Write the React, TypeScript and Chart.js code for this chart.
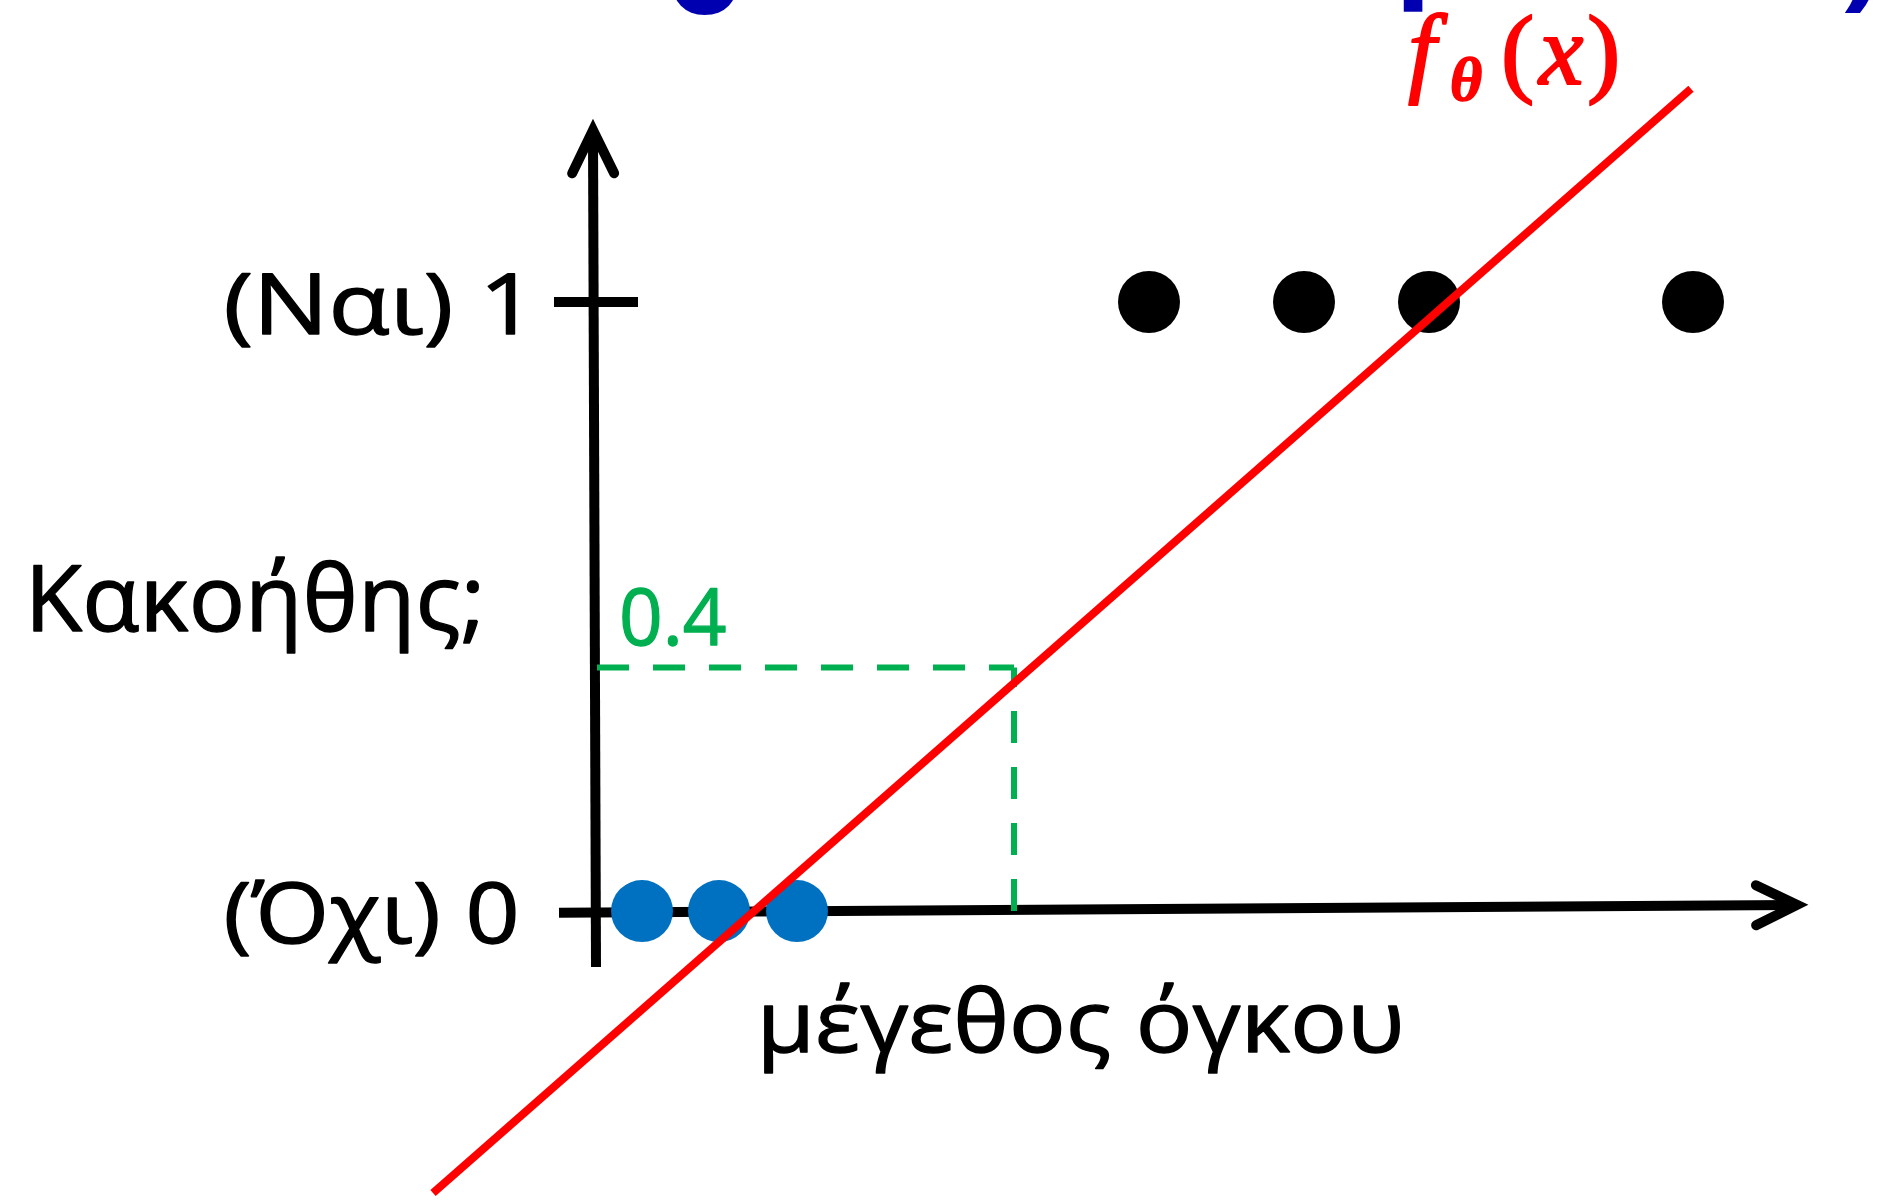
import { useEffect, useRef } from 'react';
import { Chart, registerables } from 'chart.js';

Chart.register(...registerables);

// ---- data ----
const benignX = [0.47, 1.24, 2.02];
const benignY = [0, 0, 0];
const malignantX = [5.54, 7.09, 8.34, 10.98];
const malignantY = [1, 1, 1, 1];
const fitLineX = [-1.62, 10.96];
const fitLineY = [-0.463, 1.35];
const thresholdValue = 0.4;
const thresholdSize = 4.19;
const yTickValues = [0, 1];
const yTickLabels = ['(Όχι) 0', '(Ναι) 1'];
const yAxisTitle = 'Κακοήθης;';
const xAxisTitle = 'μέγεθος όγκου';
const thresholdLabel = '0.4';
// axis extents (start, end) in data units, with the slight hand-drawn tilt
const yAxisExtentY = [-0.092, 1.282];
const yAxisExtentX = [0.01, -0.02];
const xAxisExtentX = [-0.36, 12.02];
const xAxisExtentY = [-0.003, 0.01];
const titleFragments = ['o', 'l', ')'];

const X_MIN = -5.95;
const X_MAX = 13.01;
const Y_MIN = -0.4745;
const Y_MAX = 1.4959;

const SANS = '"Open Sans", "Noto Sans", "DejaVu Sans", sans-serif';
const SERIF = '"Liberation Serif", "DejaVu Serif", serif';

function fitText(
  ctx: CanvasRenderingContext2D,
  text: string,
  font: string,
  color: string,
  anchorX: number,
  baselineY: number,
  targetW: number,
  align: 'left' | 'right' | 'center',
  weight = 1.3
) {
  ctx.save();
  ctx.font = font;
  ctx.fillStyle = color;
  ctx.strokeStyle = color;
  ctx.lineWidth = weight;
  ctx.lineJoin = 'round';
  ctx.textAlign = 'left';
  ctx.textBaseline = 'alphabetic';
  const m = ctx.measureText(text);
  const w = m.actualBoundingBoxLeft + m.actualBoundingBoxRight;
  const s = targetW / w;
  const left = align === 'left' ? anchorX : align === 'right' ? anchorX - targetW : anchorX - targetW / 2;
  ctx.translate(left, baselineY);
  ctx.scale(s, 1);
  ctx.fillText(text, m.actualBoundingBoxLeft, 0);
  if (weight > 0) ctx.strokeText(text, m.actualBoundingBoxLeft, 0);
  ctx.restore();
}

function inkText(
  ctx: CanvasRenderingContext2D,
  text: string,
  font: string,
  color: string,
  inkLeft: number,
  baselineY: number,
  weight = 0
) {
  ctx.save();
  ctx.font = font;
  ctx.fillStyle = color;
  ctx.strokeStyle = color;
  ctx.lineWidth = weight;
  ctx.lineJoin = 'round';
  ctx.textAlign = 'left';
  ctx.textBaseline = 'alphabetic';
  const m = ctx.measureText(text);
  ctx.fillText(text, inkLeft + m.actualBoundingBoxLeft, baselineY);
  if (weight > 0) ctx.strokeText(text, inkLeft + m.actualBoundingBoxLeft, baselineY);
  ctx.restore();
}

function inkBottomText(
  ctx: CanvasRenderingContext2D,
  text: string,
  font: string,
  color: string,
  inkLeft: number,
  inkBottom: number
) {
  ctx.save();
  ctx.font = font;
  ctx.fillStyle = color;
  ctx.textAlign = 'left';
  ctx.textBaseline = 'alphabetic';
  const m = ctx.measureText(text);
  ctx.fillText(text, inkLeft + m.actualBoundingBoxLeft, inkBottom - m.actualBoundingBoxDescent);
  ctx.restore();
}

function arrowHead(ctx: CanvasRenderingContext2D, x0: number, y0: number, x1: number, y1: number, back: number, spread: number) {
  const dx = x1 - x0;
  const dy = y1 - y0;
  const len = Math.hypot(dx, dy);
  const ux = dx / len;
  const uy = dy / len;
  const bx = x1 - ux * back;
  const by = y1 - uy * back;
  ctx.beginPath();
  ctx.moveTo(bx - uy * spread, by + ux * spread);
  ctx.lineTo(x1, y1);
  ctx.lineTo(bx + uy * spread, by - ux * spread);
  ctx.stroke();
}

const axesPlugin = {
  id: 'customAxes',
  beforeDatasetsDraw(chart: any) {
    const { ctx } = chart;
    const xs = chart.scales.x;
    const ys = chart.scales.y;
    ctx.save();
    ctx.strokeStyle = '#000';
    ctx.lineWidth = 10;
    ctx.lineCap = 'butt';
    // y axis
    const yx0 = xs.getPixelForValue(yAxisExtentX[0]);
    const yx1 = xs.getPixelForValue(yAxisExtentX[1]);
    const yy0 = ys.getPixelForValue(yAxisExtentY[0]);
    const yy1 = ys.getPixelForValue(yAxisExtentY[1]);
    ctx.beginPath();
    ctx.moveTo(yx0, yy0);
    ctx.lineTo(yx1, yy1 + 4);
    ctx.stroke();
    // x axis
    const xx0 = xs.getPixelForValue(xAxisExtentX[0]);
    const xx1 = xs.getPixelForValue(xAxisExtentX[1]);
    const xy0 = ys.getPixelForValue(xAxisExtentY[0]);
    const xy1 = ys.getPixelForValue(xAxisExtentY[1]);
    ctx.beginPath();
    ctx.moveTo(xx0, xy0);
    ctx.lineTo(xx1 - 4, xy1);
    ctx.stroke();
    // tick at y = 1
    const t1 = ys.getPixelForValue(yTickValues[1]);
    ctx.beginPath();
    ctx.moveTo(xs.getPixelForValue(-0.41), t1);
    ctx.lineTo(xs.getPixelForValue(0.43), t1);
    ctx.stroke();
    // arrowheads
    ctx.lineCap = 'round';
    ctx.lineJoin = 'miter';
    arrowHead(ctx, yx0, yy0, yx1, yy1, 43, 21);
    arrowHead(ctx, xx0, xy0, xx1, xy1, 41, 20);
    ctx.restore();
  },
};

const labelsPlugin = {
  id: 'customLabels',
  afterDraw(chart: any) {
    const { ctx } = chart;
    const xs = chart.scales.x;
    const ys = chart.scales.y;
    const ox = xs.getPixelForValue(0);
    yTickValues.forEach((v, i) => {
      const py = ys.getPixelForValue(v);
      fitText(ctx, yTickLabels[i], `84px ${SANS}`, '#000', ox - 80, py + 32, 288, 'right');
    });
    fitText(ctx, yAxisTitle, `92px ${SANS}`, '#000', 33, ys.getPixelForValue(0.46), 446, 'left');
    fitText(ctx, xAxisTitle, `86px ${SANS}`, '#000', 1082, ys.getPixelForValue(0) + 141, 635, 'center');
    fitText(ctx, thresholdLabel, `78px ${SANS}`, '#00B050', ox + 27, ys.getPixelForValue(thresholdValue) - 22, 104, 'left');
    const red = '#FF0000';
    inkText(ctx, 'f', `italic 100px ${SERIF}`, red, 1409, 84, 2);
    inkText(ctx, 'θ', `italic bold 62px ${SERIF}`, red, 1452, 100, 1.5);
    inkText(ctx, '(', `100px ${SERIF}`, red, 1505, 84, 2);
    inkText(ctx, 'x', `italic 100px ${SERIF}`, red, 1537, 84, 2);
    inkText(ctx, ')', `100px ${SERIF}`, red, 1590, 84, 2);
    const blue = '#0000B0';
    inkBottomText(ctx, titleFragments[0], `bold 125px ${SANS}`, blue, 671, 15);
    inkBottomText(ctx, titleFragments[1], `bold 125px ${SANS}`, blue, 1403, 12);
    inkBottomText(ctx, titleFragments[2], `bold 125px ${SANS}`, blue, 1844, 13);
  },
};

export default function App() {
  const ref = useRef<HTMLCanvasElement>(null);
  useEffect(() => {
    document.body.style.margin = '0';
    const canvas = ref.current!;
    const toPts = (xs: number[], ys: number[]) => xs.map((x, i) => ({ x, y: ys[i] }));
    const chart = new Chart(canvas, {
      type: 'scatter',
      data: {
        datasets: [
          {
            label: 'fit',
            data: toPts(fitLineX, fitLineY),
            showLine: true,
            borderColor: '#FF0000',
            backgroundColor: '#FF0000',
            borderWidth: 8,
            pointRadius: 0,
            clip: false,
          } as any,
          {
            label: 'malignant',
            data: toPts(malignantX, malignantY),
            pointRadius: 31,
            pointBorderWidth: 0,
            backgroundColor: '#000000',
            borderColor: '#000000',
          },
          {
            label: 'benign',
            data: toPts(benignX, benignY),
            pointRadius: 31,
            pointBorderWidth: 0,
            backgroundColor: '#0070C0',
            borderColor: '#0070C0',
          },
          {
            label: 'thresholdH',
            data: [
              { x: 0.02, y: thresholdValue },
              { x: thresholdSize, y: thresholdValue },
            ],
            showLine: true,
            borderColor: '#00B050',
            borderWidth: 6,
            borderDash: [32, 24],
            pointRadius: 0,
          } as any,
          {
            label: 'thresholdV',
            data: [
              { x: thresholdSize, y: 0 },
              { x: thresholdSize, y: thresholdValue },
            ],
            showLine: true,
            borderColor: '#00B050',
            borderWidth: 6,
            borderDash: [32, 24],
            pointRadius: 0,
          } as any,
        ],
      },
      options: {
        responsive: false,
        animation: false,
        devicePixelRatio: 1,
        events: [],
        layout: { padding: 0, autoPadding: false },
        plugins: {
          legend: { display: false },
          tooltip: { enabled: false },
          title: { display: false },
        },
        scales: {
          x: { type: 'linear', display: false, min: X_MIN, max: X_MAX },
          y: { type: 'linear', display: false, min: Y_MIN, max: Y_MAX },
        },
      } as any,
      plugins: [axesPlugin, labelsPlugin],
    });
    return () => chart.destroy();
  }, []);
  return (
    <div style={{ position: 'fixed', left: 0, top: 0, width: 1896, height: 1200, background: '#fff' }}>
      <canvas ref={ref} width={1896} height={1200} style={{ display: 'block', width: 1896, height: 1200 }} />
    </div>
  );
}
